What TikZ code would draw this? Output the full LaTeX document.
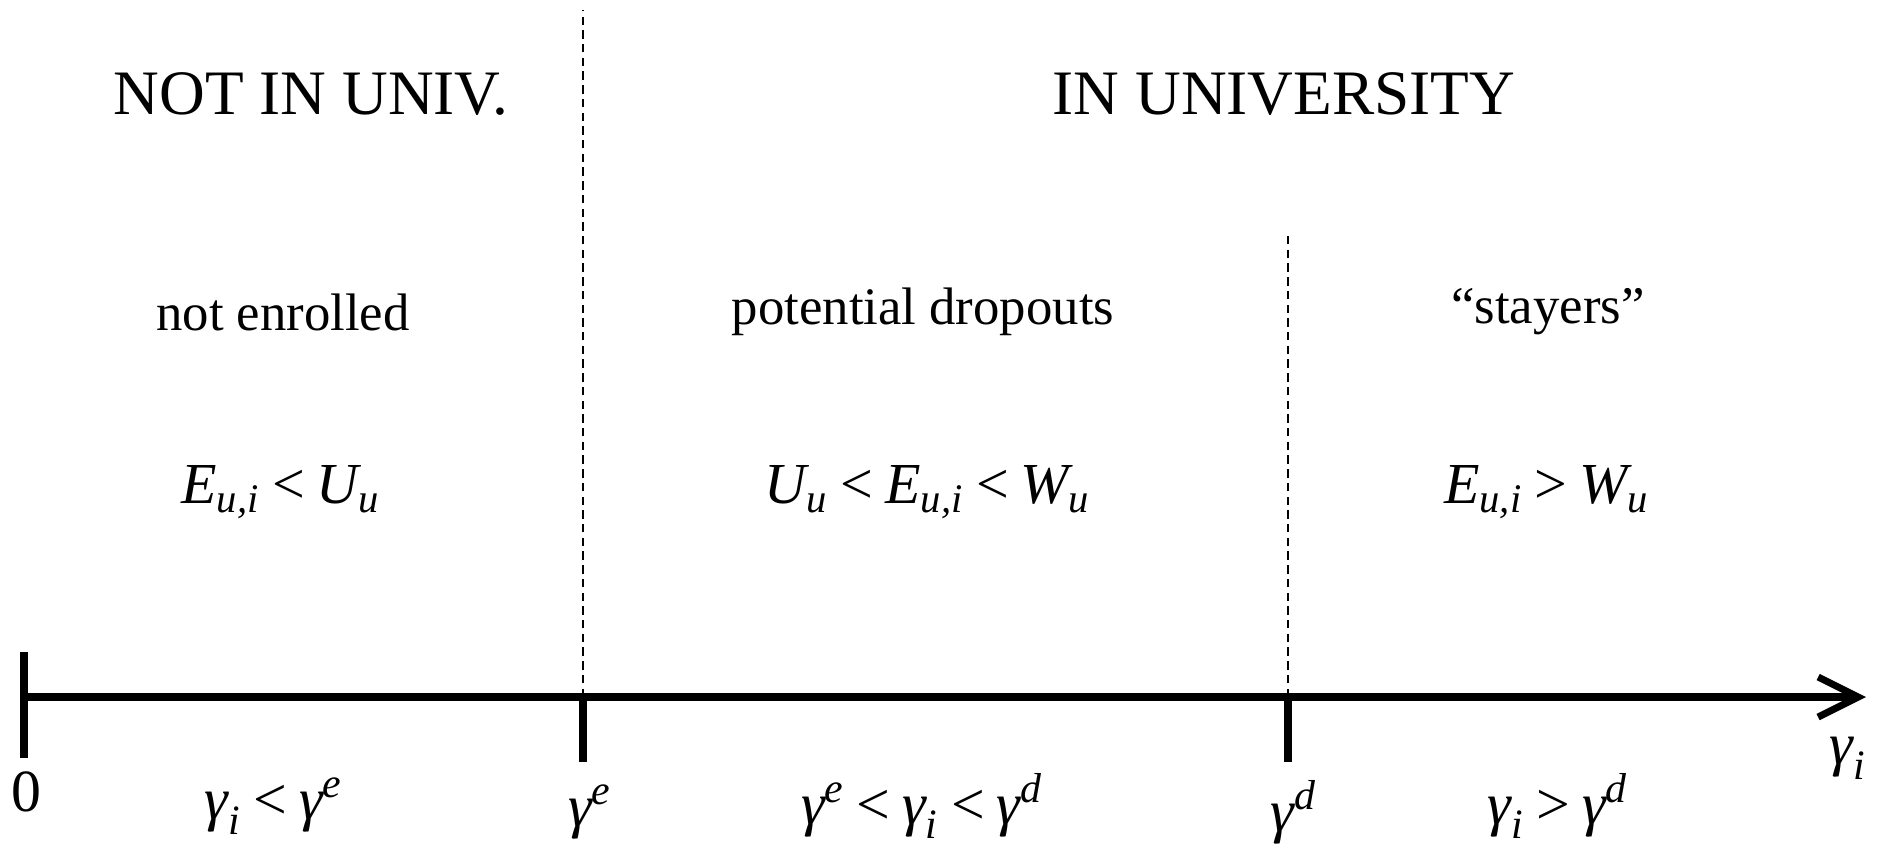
\documentclass[tikz,border=0pt]{standalone}
\usepackage{amsmath}
\usepackage{fontspec}
\setmainfont{Liberation Serif}
\usetikzlibrary{arrows.meta}
\newcommand{\iv}[1]{\textit{#1}}
\newcommand{\gam}{\textit{γ}}
\newcommand{\rlt}{\mathrel{\text{<}}}
\newcommand{\rgt}{\mathrel{\text{>}}}
\thickmuskip=3.5mu plus 2mu\relax
\tikzset{
	titletext/.style={font=\fontsize{18}{21}\selectfont},
	grouptext/.style={font=\fontsize{15}{18}\selectfont},
	condtext/.style={font=\fontsize{16.5}{19}\selectfont},
	axistext/.style={font=\fontsize{17}{20}\selectfont},
	axisline/.style={line width=2pt},
	border/.style={line width=0.5pt, dash pattern=on 2.4pt off 1.5pt}
}
\begin{document}
\begin{tikzpicture}[x=0.01cm,y=-0.01cm,line join=round]
	\def\ya{697} % axis height
	\def\xe{583} \def\xd{1288}
	\useasboundingbox (0,0) rectangle (1881,848);
	\coordinate (O) at (24,\ya);
	\coordinate (E) at (\xe,\ya);
	\coordinate (D) at (\xd,\ya);
	\coordinate (X) at (1866,\ya);
	\coordinate (Etop) at (\xe,10);
	\coordinate (Dtop) at (\xd,234);
	% borders between regions
	\draw[border] (E) -- (Etop);
	\draw[border] (D) -- (Dtop);
	% axis and ticks
	\draw[axisline,-{Straight Barb[length=4mm,width=4mm]}] (O) -- (X);
	\draw[axisline] (24,652) -- (24,758);
	\draw[axisline] (E) -- (\xe,762);
	\draw[axisline] (D) -- (\xd,762);
	% labels under the axis
	\node[axistext] (n0) at (26,792) {0};
	\node[axistext] (nlow) at (274,806) {$\gam_{\iv{i}} \rlt \gam^{\iv{e}}$};
	\node[axistext] (ge) at (590,812) {$\gam^{\iv{e}}$};
	\node[axistext] (nmid) at (922,806) {$\gam^{\iv{e}} \rlt \gam_{\iv{i}} \rlt \gam^{\iv{d}}$};
	\node[axistext] (gd) at (1294,812) {$\gam^{\iv{d}}$};
	\node[axistext] (nhigh) at (1558,806) {$\gam_{\iv{i}} \rgt \gam^{\iv{d}}$};
	\node[axistext] (gi) at (1848,758) {$\gam_{\iv{i}}$};
	% regions
	\node[titletext] (tnot) at (311,94) {NOT IN UNIV.};
	\node[titletext] (tin) at (1284,94) {IN UNIVERSITY};
	\node[grouptext] (lnot) at (283,312) {not enrolled};
	\node[grouptext] (lpot) at (923,312) {potential dropouts};
	\node[grouptext] (lstay) at (1548,312) {“stayers”};
	\node[condtext] (cnot) at (281,492) {$\iv{E}_{\iv{u,i}} \rlt \iv{U}_{\iv{u}}$};
	\node[condtext] (cpot) at (928,492) {$\iv{U}_{\iv{u}} \rlt \iv{E}_{\iv{u,i}} \rlt \iv{W}_{\iv{u}}$};
	\node[condtext] (cstay) at (1547,492) {$\iv{E}_{\iv{u,i}} \rgt \iv{W}_{\iv{u}}$};
\end{tikzpicture}
\end{document}
